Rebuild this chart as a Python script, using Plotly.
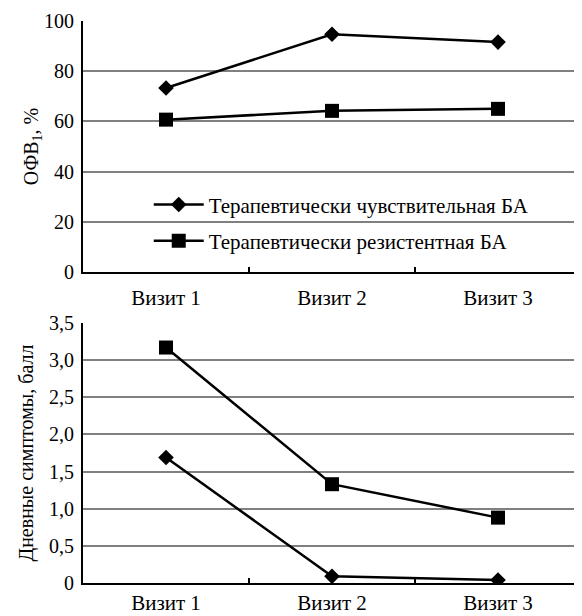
import plotly.graph_objects as go

visits = ["Визит 1", "Визит 2", "Визит 3"]
names = ["Терапевтически чувствительная БА", "Терапевтически резистентная БА"]
fev1_sensitive = [73.3, 94.7, 91.6]
fev1_resistant = [60.7, 64.2, 65.0]
day_sensitive = [1.69, 0.09, 0.04]
day_resistant = [3.17, 1.33, 0.88]
top_ticks = [0, 20, 40, 60, 80, 100]
bot_ticks = [0, 0.5, 1.0, 1.5, 2.0, 2.5, 3.0, 3.5]
bot_ticktext = ["0", "0,5", "1,0", "1,5", "2,0", "2,5", "3,0", "3,5"]

FONT = "Liberation Serif"
fig = go.Figure()

def add(y, name, sym, size, xa, ya, show, grp):
    fig.add_trace(go.Scatter(
        x=visits, y=y, name=name, mode="lines+markers",
        line=dict(color="black", width=2.5),
        marker=dict(symbol=sym, size=size, color="black"),
        xaxis=xa, yaxis=ya, showlegend=show, legendgroup=grp))

add(fev1_sensitive, names[0], "diamond", 12, "x", "y", True, "a")
add(fev1_resistant, names[1], "square", 14, "x", "y", True, "b")
add(day_sensitive, names[0], "diamond", 12, "x2", "y2", False, "a")
add(day_resistant, names[1], "square", 14, "x2", "y2", False, "b")

xcommon = dict(showline=True, linecolor="black", linewidth=2, ticks="inside",
               tickson="boundaries", ticklen=5, tickwidth=2, tickcolor="black",
               showgrid=False, tickfont=dict(family=FONT, size=21, color="black"),
               range=[-0.5, 2.5], automargin=False)
ycommon = dict(showline=True, linecolor="black", linewidth=2, showgrid=True,
               gridcolor="#808080", gridwidth=2, ticks="", zeroline=False,
               tickfont=dict(family=FONT, size=20, color="black"),
               ticklabelstandoff=3, automargin=False)

# page body has an 8px margin, so the figure is offset by 8px
fig.update_layout(
    width=574, height=608,
    margin=dict(l=75, r=1, t=13, b=33),
    plot_bgcolor="white", paper_bgcolor="white",
    font=dict(family=FONT, color="black"),
    xaxis=dict(domain=[0, 1], anchor="y", ticklabelstandoff=6, **xcommon),
    yaxis=dict(domain=[0.5534, 1], anchor="x", range=[0, 100], tickvals=top_ticks,
               title=dict(text="ОФВ<sub>1</sub>, %", font=dict(family=FONT, size=20), standoff=0),
               **ycommon),
    xaxis2=dict(domain=[0, 1], anchor="y2", ticklabelstandoff=0, **xcommon),
    yaxis2=dict(domain=[0, 0.4626], anchor="x2", range=[0, 3.5], tickvals=bot_ticks,
                ticktext=bot_ticktext,
                title=dict(text="Дневные симптомы, балл", font=dict(family=FONT, size=20), standoff=10),
                **ycommon),
    legend=dict(x=0.132, y=0.7094, xanchor="left", yanchor="top",
                bgcolor="rgba(0,0,0,0)", font=dict(family=FONT, size=21),
                itemwidth=50, traceorder="grouped", tracegroupgap=6),
)

fig.write_html("out.html")
